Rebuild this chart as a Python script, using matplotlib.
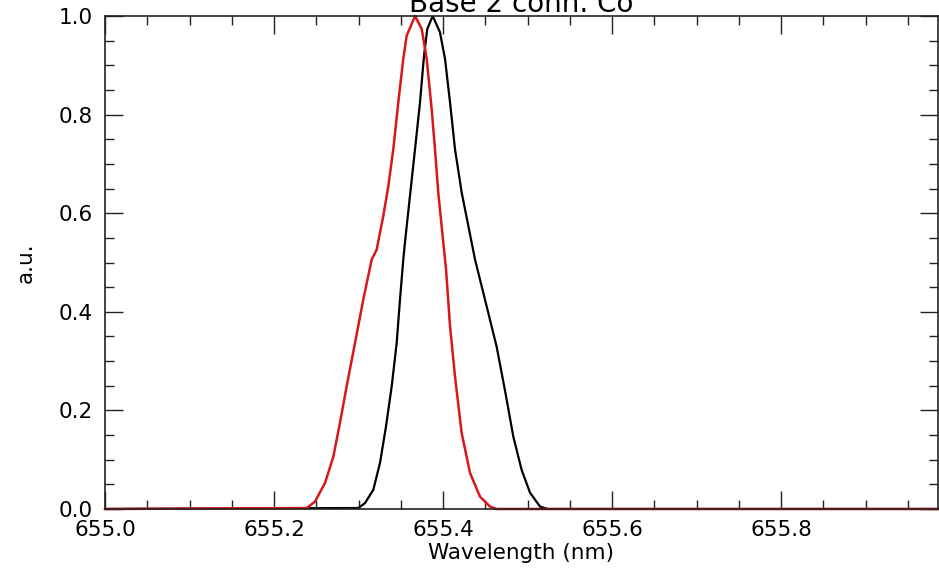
import matplotlib
matplotlib.use("Agg")
import matplotlib.pyplot as plt
from matplotlib.ticker import MultipleLocator

# profiles (wavelength in nm, normalised intensity)
wl_black = [655.0, 655.2998, 655.3077, 655.3175, 655.3254, 655.3325, 655.3393, 655.3452,
            655.3491, 655.3530, 655.3550, 655.3609, 655.3669, 655.3728, 655.3775, 655.3814,
            655.3878, 655.3964, 655.4024, 655.4083, 655.4142, 655.4221, 655.4300, 655.4379,
            655.4517, 655.4635, 655.4734, 655.4832, 655.4931, 655.5030, 655.5148, 655.524, 656.0]
int_black = [0.0, 0.002, 0.012, 0.039, 0.093, 0.167, 0.249, 0.337,
             0.425, 0.506, 0.541, 0.635, 0.730, 0.825, 0.919, 0.974,
             1.0, 0.967, 0.913, 0.825, 0.730, 0.642, 0.574, 0.506,
             0.411, 0.329, 0.240, 0.147, 0.079, 0.033, 0.005, 0.0, 0.0]

wl_red = [655.0, 655.2387, 655.2485, 655.2604, 655.2702, 655.2781, 655.2860, 655.2959,
          655.3057, 655.3156, 655.3215, 655.3293, 655.3353, 655.3412, 655.3471, 655.3530,
          655.3570, 655.3669, 655.3748, 655.3807, 655.3866, 655.3905, 655.3944, 655.3996,
          655.4036, 655.4083, 655.4142, 655.4221, 655.4320, 655.4438, 655.4556, 655.4635, 656.0]
int_red = [0.0, 0.002, 0.015, 0.053, 0.106, 0.175, 0.249, 0.337,
           0.425, 0.506, 0.526, 0.594, 0.655, 0.730, 0.825, 0.913,
           0.960, 1.0, 0.974, 0.913, 0.811, 0.730, 0.642, 0.553,
           0.486, 0.371, 0.269, 0.154, 0.073, 0.025, 0.005, 0.0, 0.0]

x_ticks = [655.0, 655.2, 655.4, 655.6, 655.8]
y_ticks = [0.0, 0.2, 0.4, 0.6, 0.8, 1.0]

plt.rcParams['font.family'] = ['DejaVu Sans']

fig = plt.figure(figsize=(9.39, 5.71), dpi=100)
ax = fig.add_axes([105 / 939, 62 / 571, 833 / 939, 493 / 571])

ax.plot(wl_black, int_black, color='black', lw=1.6)
ax.plot(wl_red, int_red, color='#d81818', lw=1.8, clip_on=False)

ax.set_xlim(655.0, 655.0 + 833 / 845)
ax.set_ylim(0, 1.0)
ax.set_xticks(x_ticks)
ax.set_xticklabels(['%.1f' % v for v in x_ticks])
ax.set_yticks(y_ticks)
ax.set_yticklabels(['%.1f' % v for v in y_ticks])
ax.xaxis.set_minor_locator(MultipleLocator(0.05))
ax.yaxis.set_minor_locator(MultipleLocator(0.05))

ax.tick_params(which='both', direction='in', top=True, right=True,
               width=1.0, color='#222222', labelsize=15.5)
ax.tick_params(which='major', length=13)
ax.tick_params(which='minor', length=6.5)
ax.tick_params(axis='y', pad=9)
ax.tick_params(axis='x', pad=8)
for s in ax.spines.values():
    s.set_linewidth(1.2)
    s.set_color('#222222')

ax.set_xlabel('Wavelength (nm)', fontsize=15.5, labelpad=2)
ax.set_ylabel('a.u.', fontsize=15.5, labelpad=16)

fig.text(0.555, 1 - 12 / 571, 'Base 2 conn. Co', fontsize=20,
         ha='center', va='baseline')

fig.savefig('out.png', dpi=100)
